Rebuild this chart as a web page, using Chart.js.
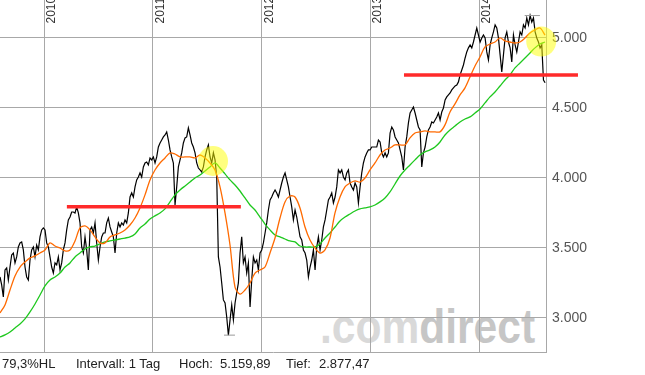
<!DOCTYPE html>
<html>
<head>
<meta charset="utf-8">
<script src="https://cdn.jsdelivr.net/npm/chart.js@4.4.0/dist/chart.umd.min.js"></script>
<style>
body { margin: 0; background: #fff; width: 645px; height: 375px; overflow: hidden; position: relative; font-family: 'Liberation Sans', Arial, sans-serif; }
#wm { position: absolute; left: 320px; top: 303px; font-size: 48px; font-weight: bold; line-height: 48px; transform: scaleX(0.886); transform-origin: 0 0; white-space: nowrap; }
#wm .a { color: #d9d9d9; }
#wm .b { color: #c6c6c6; }
canvas { position: absolute; left: 0; top: 0; }
.info { position: absolute; top: 357px; font-size: 13px; line-height: 13px; color: #222; white-space: nowrap; }
</style>
</head>
<body>
<div id="wm"><span class="a">.com</span><span class="b">direct</span></div>
<canvas id="chart" width="645" height="375"></canvas>
<div class="info" style="left:2px">79,3%HL</div>
<div class="info" style="left:76px">Intervall: 1 Tag</div>
<div class="info" style="left:179px">Hoch:</div>
<div class="info" style="left:220px">5.159,89</div>
<div class="info" style="left:286px">Tief:</div>
<div class="info" style="left:319px">2.877,47</div>
<script>
const yearTicks = [2010, 2011, 2012, 2013, 2014];
const priceTicks = [3000, 3500, 4000, 4500, 5000];

// daily close, sampled about every 4 trading days
const closeStart = 2009.595;
const closeStep = 0.01533;
const closeValues = [
    3293, 3236, 3150, 3343, 3357, 3271, 3364, 3450, 3464, 3393,
    3436, 3507, 3536, 3543, 3486, 3364, 3293, 3271, 3414, 3486,
    3507, 3436, 3521, 3486, 3579, 3629, 3643, 3629, 3536, 3507,
    3436, 3364, 3321, 3393, 3379, 3436, 3343, 3393, 3486, 3536,
    3629, 3700, 3721, 3757, 3757, 3750, 3793, 3750, 3679, 3507,
    3464, 3579, 3486, 3343, 3629, 3650, 3607, 3679, 3536, 3414,
    3507, 3579, 3607, 3607, 3679, 3714, 3650, 3614, 3579, 3464,
    3607, 3679, 3650, 3679, 3664, 3700, 3679, 3750, 3864, 3893,
    3864, 3936, 3986, 4007, 4036, 4007, 4079, 4107, 4114, 4093,
    4143, 4129, 4150, 4107, 4150, 4221, 4250, 4271, 4293, 4307,
    4329, 4271, 4200, 4150, 4107, 3807, 3936, 4079, 4129, 4179,
    4250, 4286, 4293, 4357, 4307, 4250, 4221, 4179, 4107, 4071,
    4057, 4043, 4079, 4150, 4200, 4236, 4150, 4107, 4179, 4129,
    4007, 3436, 3364, 3250, 3129, 3107, 3007, 2877, 2986, 3093,
    2986, 3107, 3179, 3250, 3464, 3579, 3393, 3436, 3321, 3393,
    3079, 3271, 3436, 3393, 3414, 3343, 3464, 3486, 3536, 3607,
    3679, 3771, 3843, 3864, 3893, 3914, 3893, 3864, 3914, 3964,
    4007, 4036, 3986, 3936, 3864, 3793, 3700, 3771, 3721, 3650,
    3579, 3557, 3486, 3464, 3414, 3293, 3364, 3414, 3486, 3343,
    3507, 3579, 3486, 3557, 3650, 3700, 3771, 3843, 3864, 3893,
    3821, 3864, 3936, 4057, 4036, 4057, 4007, 3986, 4036, 4057,
    3964, 3936, 3914, 3964, 3936, 3821, 3936, 4036, 4107, 4150,
    4179, 4200, 4200, 4221, 4221, 4221, 4221, 4271, 4257, 4179,
    4150, 4179, 4150, 4179, 4321, 4364, 4343, 4293, 4271, 4250,
    4200, 4150, 4057, 4221, 4293, 4393, 4464, 4486, 4507, 4464,
    4414, 4364, 4343, 4079, 4179, 4221, 4293, 4343, 4364, 4400,
    4393, 4414, 4436, 4464, 4414, 4471, 4500, 4557, 4579, 4593,
    4607, 4629, 4643, 4657, 4664, 4686, 4736, 4771, 4807, 4857,
    4900, 4929, 4950, 4929, 4971, 5021, 5071, 5021, 4971, 5000,
    5021, 5000, 4900, 4843, 4950, 5000, 5043, 5093, 5071, 5000,
    4879, 4757, 4879, 5000, 5043, 4971, 4929, 4829, 5021, 4950,
    4900, 4971, 5043, 5021, 5093, 5071, 5143, 5093, 5160, 5114,
    5143, 5043, 5000, 4971, 4929, 4950, 4700, 4680
];

// moving averages, sampled about every 12 trading days
const avgStart = 2009.595;
const avgStep = 0.04598;
const avgFast = [
    3036, 3093, 3200, 3300, 3364, 3400, 3429, 3443, 3464, 3486,
    3536, 3514, 3500, 3479, 3486, 3550, 3643, 3657, 3629, 3579,
    3536, 3536, 3579, 3593, 3607, 3629, 3664, 3714, 3786, 3879,
    3986, 4057, 4107, 4143, 4179, 4171, 4150, 4150, 4150, 4143,
    4164, 4143, 4107, 4057, 3936, 3750, 3521, 3221, 3171, 3200,
    3250, 3321, 3343, 3364, 3464, 3571, 3714, 3829, 3871, 3864,
    3786, 3650, 3557, 3500, 3464, 3486, 3571, 3750, 3864, 3936,
    3964, 3979, 3971, 4000, 4057, 4107, 4164, 4200, 4214, 4236,
    4236, 4236, 4286, 4321, 4329, 4336, 4329, 4329, 4329, 4379,
    4471, 4529, 4593, 4643, 4721, 4800, 4864, 4936, 4957, 4971,
    5000, 4979, 4971, 4964, 4971, 5000, 5036, 5057, 5071, 5021
];
const avgSlow = [
    2864, 2879, 2900, 2929, 2957, 2993, 3043, 3100, 3164, 3229,
    3271, 3293, 3321, 3364, 3393, 3436, 3464, 3493, 3507, 3514,
    3529, 3543, 3550, 3557, 3564, 3571, 3579, 3600, 3643, 3671,
    3707, 3729, 3750, 3779, 3829, 3879, 3914, 3943, 3971, 4000,
    4021, 4050, 4079, 4107, 4071, 4029, 3986, 3950, 3907, 3857,
    3807, 3771, 3721, 3671, 3629, 3593, 3579, 3564, 3550, 3543,
    3514, 3507, 3507, 3507, 3529, 3571, 3607, 3650, 3693, 3721,
    3743, 3764, 3779, 3786, 3793, 3807, 3829, 3857, 3900, 3957,
    4014, 4057, 4093, 4129, 4164, 4186, 4200, 4221, 4257, 4307,
    4343, 4371, 4400, 4421, 4436, 4464, 4493, 4536, 4579, 4614,
    4657, 4700, 4736, 4786, 4821, 4857, 4893, 4929, 4957, 4971
];

// drawn-in marks
const supportLevels = [3795, 4735];
const supportFrom = [2010.21, 2013.31];
const supportTo = [2011.81, 2014.91];
const circleDates = [2011.554, 2014.572];
const circleValues = [4121, 4974];
const highValue = 5159.89;
const highRange = [2014.42, 2014.56];
const lowValue = 2877.47;
const lowRange = [2011.655, 2011.756];

function series(start, step, values) {
    return values.map((v, i) => ({ x: start + i * step, y: v }));
}

function formatPrice(v) {
    return String(v).replace(/\B(?=(\d{3})+(?!\d))/g, '.');
}

const gridColor = '#a8a8a8';

const datasets = [];

datasets.push({
    data: circleDates.map((d, i) => ({ x: d, y: circleValues[i] })),
    showLine: false,
    pointRadius: 15,
    pointBorderWidth: 0,
    pointBackgroundColor: 'rgba(255,255,0,0.5)',
    clip: false
});

supportLevels.forEach((level, i) => {
    datasets.push({
        data: [{ x: supportFrom[i], y: level }, { x: supportTo[i], y: level }],
        borderColor: '#ff2a2a',
        borderWidth: 3.5,
        pointRadius: 0,
        clip: false
    });
});

datasets.push({
    data: [{ x: highRange[0], y: highValue }, { x: highRange[1], y: highValue }],
    borderColor: '#9a9a9a', borderWidth: 1, pointRadius: 0
});
datasets.push({
    data: [{ x: lowRange[0], y: lowValue }, { x: lowRange[1], y: lowValue }],
    borderColor: '#9a9a9a', borderWidth: 1, pointRadius: 0
});

datasets.push({
    data: series(avgStart, avgStep, avgFast),
    borderColor: '#ff6a00', borderWidth: 1.3, pointRadius: 0, tension: 0.3
});
datasets.push({
    data: series(avgStart, avgStep, avgSlow),
    borderColor: '#1ec81e', borderWidth: 1.3, pointRadius: 0, tension: 0.3
});
datasets.push({
    data: series(closeStart, closeStep, closeValues),
    borderColor: '#000', borderWidth: 1.2, pointRadius: 0, tension: 0
});

// year labels sit inside the plot at the top, rotated
const yearLabels = {
    id: 'yearLabels',
    beforeDatasetsDraw(chart) {
        const ctx = chart.ctx;
        const xs = chart.scales.x;
        ctx.save();
        ctx.font = '12px "Liberation Sans", Arial, sans-serif';
        ctx.fillStyle = '#333';
        ctx.textBaseline = 'alphabetic';
        yearTicks.forEach(y => {
            const px = Math.round(xs.getPixelForValue(y));
            ctx.save();
            ctx.translate(px + 11, 23.5);
            ctx.rotate(-Math.PI / 2);
            ctx.fillText(String(y), 0, 0);
            ctx.restore();
        });
        ctx.restore();
    }
};

new Chart(document.getElementById('chart'), {
    type: 'line',
    data: { datasets },
    options: {
        responsive: false,
        animation: false,
        devicePixelRatio: 1,
        layout: { padding: 0, autoPadding: false },
        plugins: { legend: { display: false }, tooltip: { enabled: false } },
        scales: {
            x: {
                type: 'linear',
                min: 2009.595,
                max: 2014.616,
                afterBuildTicks: s => { s.ticks = yearTicks.map(v => ({ value: v })); },
                afterFit: s => { s.height = 23; s.paddingLeft = 0; s.paddingRight = 0; },
                ticks: { display: false },
                grid: { color: gridColor, drawTicks: false },
                border: { color: gridColor }
            },
            y: {
                type: 'linear',
                position: 'right',
                min: 2757,
                max: 5271,
                afterBuildTicks: s => { s.ticks = priceTicks.map(v => ({ value: v })); },
                afterFit: s => { s.width = 99; s.paddingTop = 0; s.paddingBottom = 0; },
                ticks: {
                    callback: v => formatPrice(v),
                    padding: 6,
                    color: '#555',
                    font: { family: '"Liberation Sans", Arial, sans-serif', size: 14 }
                },
                grid: { color: gridColor, drawTicks: false },
                border: { color: gridColor }
            }
        }
    },
    plugins: [yearLabels]
});
</script>
</body>
</html>
